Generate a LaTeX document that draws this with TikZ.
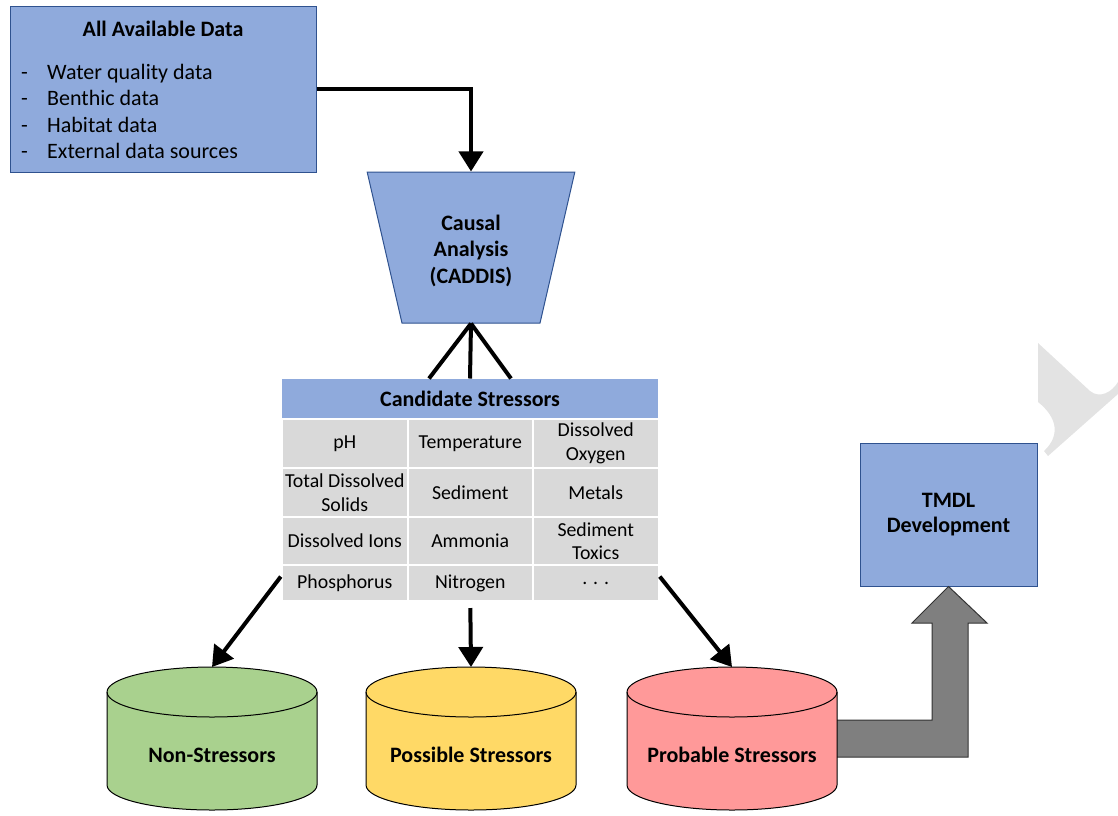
\documentclass[tikz,border=0pt]{standalone}
\usepackage{fontspec}
\setmainfont{Carlito}
\usetikzlibrary{shapes.geometric,arrows.meta,positioning}
\definecolor{boxblue}{HTML}{8FAADC}
\definecolor{boxedge}{HTML}{2F528F}
\definecolor{cellgray}{HTML}{D9D9D9}
\definecolor{nongreen}{HTML}{A9D18E}
\definecolor{possyellow}{HTML}{FFD966}
\definecolor{probred}{HTML}{FF9999}
\definecolor{bentgray}{HTML}{7F7F7F}
\definecolor{markgray}{HTML}{E3E3E3}
\tikzset{auto, >={Triangle[length=20pt,width=24pt]}, font=\fontsize{22}{26.5}\selectfont}
\tikzstyle{block} = [draw=boxedge, fill=boxblue, rectangle, line width=1pt, inner sep=0pt, align=center, font=\fontsize{22}{25}\selectfont\bfseries]
\tikzstyle{funnel} = [draw=boxedge, fill=boxblue, trapezium, shape border rotate=180, trapezium left angle=75, trapezium right angle=75, trapezium stretches=true, minimum width=208pt, minimum height=151pt, inner sep=0pt, line width=1pt, align=center, font=\fontsize{22}{26.5}\selectfont\bfseries]
\tikzstyle{head} = [fill=boxblue, rectangle, minimum width=376pt, minimum height=40pt, inner sep=0pt, outer sep=0pt, font=\fontsize{22}{26}\selectfont\bfseries]
\tikzstyle{cell} = [fill=cellgray, draw=white, line width=2pt, rectangle, minimum width=125.5pt, minimum height=49pt, inner sep=0pt, outer sep=0pt, align=center, font=\fontsize{19.8}{23.5}\selectfont]
\tikzstyle{store} = [rectangle, minimum width=210pt, minimum height=143pt, inner sep=0pt, outer sep=0pt]
\tikzstyle{storetext} = [font=\fontsize{22}{26}\selectfont\bfseries]
\tikzstyle{flow} = [->, line width=4pt]
\tikzstyle{leg} = [line width=4pt]

\begin{document}
\begin{tikzpicture}[x=1pt, y=-1pt]
    \useasboundingbox (0,0) rectangle (1118,815);

    % faint mark at the right edge
    \fill [markgray] (1038,343) -- (1090,391) .. controls (1100,399) and (1112,392) .. (1118,382) -- (1118,394) -- (1048,456) -- (1044,451) .. controls (1060,436) and (1058,418) .. (1038,402) -- cycle;

    \node [block, minimum width=306pt, minimum height=166pt] (data) at (163,89) {};
    \node [font=\fontsize{22}{26}\selectfont\bfseries] (datatitle) at (163,29) {All Available Data};
    \node [anchor=west, align=left, inner sep=0pt] (datalist) at (21,111.5) {\makebox[26pt][l]{-}Water quality data\\\makebox[26pt][l]{-}Benthic data\\\makebox[26pt][l]{-}Habitat data\\\makebox[26pt][l]{-}External data sources};

    \node [funnel] (caddis) at (471,247.5) {\\[-5pt]Causal\\Analysis\\(CADDIS)};

    \node [head] (cand) at (470,398.5) {Candidate Stressors};
    \node [cell, anchor=north west] (c11) at (282,419) {pH};
    \node [cell, right=0pt of c11] (c12) {Temperature};
    \node [cell, right=0pt of c12] (c13) {Dissolved\\Oxygen};
    \node [cell, below=0pt of c11] (c21) {Total Dissolved\\Solids};
    \node [cell, right=0pt of c21] (c22) {Sediment};
    \node [cell, right=0pt of c22] (c23) {Metals};
    \node [cell, below=0pt of c21, minimum height=48pt] (c31) {Dissolved Ions};
    \node [cell, right=0pt of c31, minimum height=48pt] (c32) {Ammonia};
    \node [cell, right=0pt of c32, minimum height=48pt] (c33) {Sediment\\Toxics};
    \node [cell, below=0pt of c31, minimum height=36pt] (c41) {Phosphorus};
    \node [cell, right=0pt of c41, minimum height=36pt] (c42) {Nitrogen};
    \node [cell, right=0pt of c42, minimum height=36pt] (c43) {. . .};

    \node [block, minimum width=177pt, minimum height=143pt] (tmdl) at (948.5,514.5) {TMDL\\Development};

    % wide bent arrow
    \draw [fill=bentgray, draw=black!80, line width=1pt] (820,720) -- (932,720) -- (932,623) -- (912,623) -- (tmdl.south) -- (987,623) -- (968,623) -- (968,757) -- (820,757) -- cycle;

    \node [store, anchor=north] (non) at (212,667) {};
    \node [store, anchor=north] (poss) at (471,667) {};
    \node [store, anchor=north] (prob) at (732,667) {};
    \foreach \s/\c in {non/nongreen, poss/possyellow, prob/probred} {
        \draw [fill=\c, line width=1pt] ([yshift=-25pt]\s.north west) -- ([yshift=25pt]\s.south west)
            arc [start angle=180, end angle=360, x radius=105pt, y radius=25pt]
            -- ([yshift=-25pt]\s.north east)
            arc [start angle=0, end angle=180, x radius=105pt, y radius=25pt] -- cycle;
        \draw [line width=1pt] ([yshift=-25pt]\s.north west) arc [start angle=180, end angle=360, x radius=105pt, y radius=25pt];
    }
    \node [storetext] (nonlbl) at (212,755) {Non-Stressors};
    \node [storetext] (posslbl) at (471,755) {Possible Stressors};
    \node [storetext] (problbl) at (732,755) {Probable Stressors};

    \draw [flow] (data.east) -| (caddis.north);
    \draw [leg] (cand.north) -- (caddis.south);
    \draw [leg] ([xshift=-41pt]cand.north) -- (caddis.south);
    \draw [leg] ([xshift=41pt]cand.north) -- (caddis.south);
    \draw [flow, shorten <=2pt] ([yshift=8pt]c41.west) -- (non.north);
    \draw [flow, shorten <=7pt] (c42.south) -- (poss.north);
    \draw [flow, shorten <=2pt] ([yshift=8pt]c43.east) -- (prob.north);
\end{tikzpicture}
\end{document}
